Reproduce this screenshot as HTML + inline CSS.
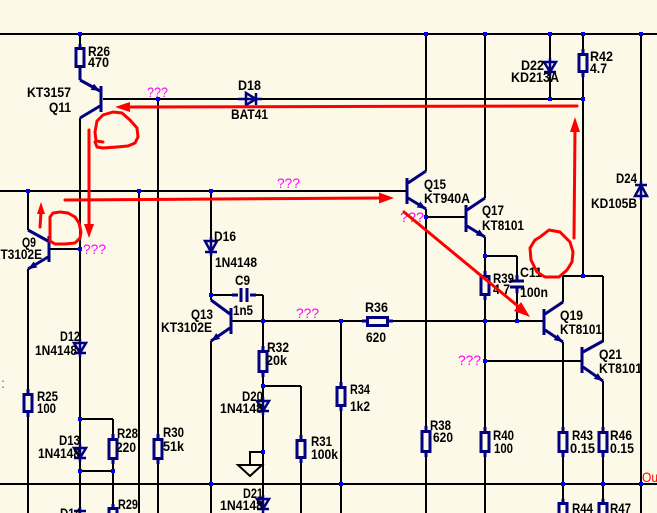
<!DOCTYPE html>
<html><head><meta charset="utf-8"><style>
html,body{margin:0;padding:0;background:#fdf9e8;overflow:hidden}
svg{display:block}
text{font-family:"Liberation Sans",Arial,sans-serif;font-size:14px;font-weight:bold;fill:#000}
text.m{fill:#ff00ff;font-weight:normal}
text.r{fill:#ff0000;font-weight:normal}
</style></head><body>
<svg width="657" height="513" viewBox="0 0 657 513" xmlns="http://www.w3.org/2000/svg">
<defs>
<marker id="a" viewBox="0 0 10 8" refX="10" refY="4" markerWidth="9" markerHeight="7" markerUnits="userSpaceOnUse" orient="auto"><path d="M0,0L10,4L0,8z" fill="#000080"/></marker>
</defs>
<rect width="657" height="513" fill="#fdf9e8"/>
<!-- black wires -->
<g stroke="#000" stroke-width="2" fill="none">
<path d="M0,34H657M103,99H583M0,191H407M0,484H657M49,249H80M426,217H465"/>
<path d="M211,295H238M250,295H263M232,321H366M389,321H544M485,256H517M485,361H582M563,276H603M80,419H113M80,471H113M263,386H301"/>
<path d="M263,452H250V464M238,465H262L250,476Z"/>
<path d="M80,34V44M80,118V342M80,354V447M80,459V513"/>
<path d="M28,191V230M28,269V393M28,413V513"/>
<path d="M113,419V438M113,460V507"/>
<path d="M139,191V513M158,99V438M158,460V513"/>
<path d="M211,191V240M211,253V300M211,341V513"/>
<path d="M263,295V350M263,373V400M263,412V498M263,510V513"/>
<path d="M301,386V439M301,459V513M341,321V386M341,407V513"/>
<path d="M426,34V171M426,209V430M426,453V513"/>
<path d="M485,34V198M485,237V275M485,296V431M485,453V513"/>
<path d="M517,256V280M517,288V321"/>
<path d="M550,34V62M550,72V99M583,34V53M583,73V276"/>
<path d="M563,276V302M563,342V431M563,453V502"/>
<path d="M603,276V342M603,381V431M603,453V502"/>
<path d="M641,34V185M641,196V513"/>
</g>
<!-- navy components -->
<g stroke="#000080" stroke-width="3" fill="none">
<!-- resistors -->
<rect x="76" y="48.5" width="8" height="18"/><path d="M80,44V47M80,68V80"/>
<rect x="579" y="54.5" width="8" height="17"/><path d="M583,49V53M583,73V77"/>
<rect x="24" y="394.5" width="8" height="17"/><path d="M28,389V393M28,413V417"/>
<rect x="109" y="439.5" width="8" height="19"/><path d="M113,434V438M113,460V464"/>
<rect x="154" y="439.5" width="8" height="19"/><path d="M158,434V438M158,460V464"/>
<rect x="259" y="351.5" width="8" height="20"/><path d="M263,346V350M263,373V377"/>
<rect x="297" y="440.5" width="8" height="17"/><path d="M301,435V439M301,459V463"/>
<rect x="337" y="387.5" width="8" height="18"/><path d="M341,382V386M341,407V411"/>
<rect x="422" y="431.5" width="8" height="20"/><path d="M426,426V430M426,453V457"/>
<rect x="481" y="432.5" width="8" height="19"/><path d="M485,427V431M485,453V457"/>
<rect x="559" y="432.5" width="8" height="19"/><path d="M563,427V431M563,453V457"/>
<rect x="599" y="432.5" width="8" height="19"/><path d="M603,427V431M603,453V457"/>
<rect x="481" y="276.5" width="8" height="18"/><path d="M485,271V275M485,296V300"/>
<rect x="367.5" y="317.5" width="20" height="8"/><path d="M362,321H366M389,321H393"/>
<rect x="109" y="508.5" width="8" height="14"/><path d="M113,504V507"/>
<rect x="559" y="503.5" width="8" height="14"/><path d="M563,499V502"/>
<rect x="599" y="503.5" width="8" height="14"/><path d="M603,499V502"/>
<!-- capacitors -->
<path d="M241,288V302M247,288V302M232,295H238M250,295H256"/>
<path d="M510,281H524M510,287H524M517,275V280M517,288V293"/>
<!-- transistors -->
<path d="M101,86V112M100,106L80,118"/>
<path d="M80,80L100,91" marker-end="url(#a)"/>
<path d="M49,236V262M48,241L28,230"/>
<path d="M48,257L28,269" marker-end="url(#a)"/>
<path d="M231,308V334M230,314L211,300"/>
<path d="M230,328L211,341" marker-end="url(#a)"/>
<path d="M407,178V204M408,183L426,171"/>
<path d="M408,198L426,209" marker-end="url(#a)"/>
<path d="M466,205V232M467,210L485,198"/>
<path d="M467,226L485,237" marker-end="url(#a)"/>
<path d="M544,309V335M545,314L563,302"/>
<path d="M545,330L563,342" marker-end="url(#a)"/>
<path d="M582,347V373M583,352L603,341"/>
<path d="M583,367L603,381" marker-end="url(#a)"/>
</g>
<!-- diodes -->
<g stroke="#000080" stroke-width="2.5" fill="none">
<path d="M205,241H217L211,252ZM205,252H217M211,237V256"/>
<path d="M74,343H86L80,353ZM74,353H86M80,339V357"/>
<path d="M74,448H86L80,458ZM74,458H86M80,444V462"/>
<path d="M257,401H269L263,411ZM257,411H269M263,397V415"/>
<path d="M257,499H269L263,509ZM257,509H269M263,495V513"/>
<path d="M74,511H86M80,507V513"/>
<path d="M544,62H556L550,72ZM544,72H556M550,58V76"/>
<path d="M635,185H647M641,185L635,196H647ZM641,181V200"/>
<path d="M256,99L246,93V105ZM256,93V105M238,99H262"/>
</g>
<!-- junction dots -->
<g fill="#0000ff">
<rect x="78" y="32" width="4" height="4"/><rect x="424" y="32" width="4" height="4"/><rect x="483" y="32" width="4" height="4"/><rect x="548" y="32" width="4" height="4"/><rect x="581" y="32" width="4" height="4"/><rect x="639" y="32" width="4" height="4"/>
<rect x="156" y="97" width="4" height="4"/><rect x="548" y="97" width="4" height="4"/><rect x="581" y="97" width="4" height="4"/>
<rect x="26" y="189" width="4" height="4"/><rect x="137" y="189" width="4" height="4"/><rect x="209" y="189" width="4" height="4"/>
<rect x="78" y="247" width="4" height="4"/><rect x="209" y="293" width="4" height="4"/><rect x="261" y="319" width="4" height="4"/>
<rect x="339" y="319" width="4" height="4"/><rect x="483" y="319" width="4" height="4"/><rect x="515" y="319" width="4" height="4"/>
<rect x="424" y="215" width="4" height="4"/><rect x="483" y="254" width="4" height="4"/><rect x="581" y="274" width="4" height="4"/>
<rect x="483" y="359" width="4" height="4"/><rect x="78" y="417" width="4" height="4"/><rect x="78" y="469" width="4" height="4"/><rect x="111" y="469" width="4" height="4"/>
<rect x="261" y="384" width="4" height="4"/><rect x="261" y="450" width="4" height="4"/>
<rect x="209" y="482" width="4" height="4"/><rect x="339" y="482" width="4" height="4"/><rect x="561" y="482" width="4" height="4"/><rect x="601" y="482" width="4" height="4"/><rect x="639" y="482" width="4" height="4"/>
</g>
<!-- labels -->
<g>
<text x="88" y="56" textLength="22" lengthAdjust="spacingAndGlyphs">R26</text>
<text x="88" y="67" textLength="21" lengthAdjust="spacingAndGlyphs">470</text>
<text x="27" y="97" textLength="44" lengthAdjust="spacingAndGlyphs">KT3157</text>
<text x="49" y="112" textLength="22" lengthAdjust="spacingAndGlyphs">Q11</text>
<text x="238" y="90" textLength="23" lengthAdjust="spacingAndGlyphs">D18</text>
<text x="231" y="119" textLength="37" lengthAdjust="spacingAndGlyphs">BAT41</text>
<text x="521" y="70" textLength="23" lengthAdjust="spacingAndGlyphs">D22</text>
<text x="511" y="82" textLength="48" lengthAdjust="spacingAndGlyphs">KD213A</text>
<text x="590" y="61" textLength="23" lengthAdjust="spacingAndGlyphs">R42</text>
<text x="590" y="73" textLength="17" lengthAdjust="spacingAndGlyphs">4.7</text>
<text x="22" y="247" textLength="14" lengthAdjust="spacingAndGlyphs">Q9</text>
<text x="-8" y="259" textLength="50" lengthAdjust="spacingAndGlyphs">KT3102E</text>
<text x="214" y="241" textLength="22" lengthAdjust="spacingAndGlyphs">D16</text>
<text x="215" y="267" textLength="42" lengthAdjust="spacingAndGlyphs">1N4148</text>
<text x="235" y="285" textLength="15" lengthAdjust="spacingAndGlyphs">C9</text>
<text x="233" y="315" textLength="20" lengthAdjust="spacingAndGlyphs">1n5</text>
<text x="191" y="319" textLength="22" lengthAdjust="spacingAndGlyphs">Q13</text>
<text x="161" y="332" textLength="51" lengthAdjust="spacingAndGlyphs">KT3102E</text>
<text x="60" y="341" textLength="20" lengthAdjust="spacingAndGlyphs">D12</text>
<text x="35" y="355" textLength="42" lengthAdjust="spacingAndGlyphs">1N4148</text>
<text x="37" y="401" textLength="21" lengthAdjust="spacingAndGlyphs">R25</text>
<text x="37" y="413" textLength="19" lengthAdjust="spacingAndGlyphs">100</text>
<text x="59" y="445" textLength="21" lengthAdjust="spacingAndGlyphs">D13</text>
<text x="38" y="458" textLength="42" lengthAdjust="spacingAndGlyphs">1N4148</text>
<text x="117" y="438" textLength="21" lengthAdjust="spacingAndGlyphs">R28</text>
<text x="116" y="452" textLength="20" lengthAdjust="spacingAndGlyphs">220</text>
<text x="163" y="437" textLength="21" lengthAdjust="spacingAndGlyphs">R30</text>
<text x="163" y="451" textLength="21" lengthAdjust="spacingAndGlyphs">51k</text>
<text x="118" y="509" textLength="20" lengthAdjust="spacingAndGlyphs">R29</text>
<text x="60" y="518" textLength="21" lengthAdjust="spacingAndGlyphs">D14</text>
<text x="267" y="352" textLength="22" lengthAdjust="spacingAndGlyphs">R32</text>
<text x="266" y="365" textLength="21" lengthAdjust="spacingAndGlyphs">20k</text>
<text x="242" y="401" textLength="21" lengthAdjust="spacingAndGlyphs">D20</text>
<text x="220" y="413" textLength="43" lengthAdjust="spacingAndGlyphs">1N4148</text>
<text x="311" y="446" textLength="21" lengthAdjust="spacingAndGlyphs">R31</text>
<text x="311" y="459" textLength="27" lengthAdjust="spacingAndGlyphs">100k</text>
<text x="350" y="394" textLength="20" lengthAdjust="spacingAndGlyphs">R34</text>
<text x="350" y="411" textLength="20" lengthAdjust="spacingAndGlyphs">1k2</text>
<text x="243" y="498" textLength="20" lengthAdjust="spacingAndGlyphs">D21</text>
<text x="220" y="510" textLength="43" lengthAdjust="spacingAndGlyphs">1N4148</text>
<text x="424" y="189" textLength="22" lengthAdjust="spacingAndGlyphs">Q15</text>
<text x="424" y="203" textLength="46" lengthAdjust="spacingAndGlyphs">KT940A</text>
<text x="482" y="215" textLength="22" lengthAdjust="spacingAndGlyphs">Q17</text>
<text x="482" y="230" textLength="42" lengthAdjust="spacingAndGlyphs">KT8101</text>
<text x="493" y="283" textLength="21" lengthAdjust="spacingAndGlyphs">R39</text>
<text x="493" y="294" textLength="17" lengthAdjust="spacingAndGlyphs">4.7</text>
<text x="520" y="277" textLength="22" lengthAdjust="spacingAndGlyphs">C11</text>
<text x="520" y="297" textLength="28" lengthAdjust="spacingAndGlyphs">100n</text>
<text x="560" y="320" textLength="23" lengthAdjust="spacingAndGlyphs">Q19</text>
<text x="560" y="334" textLength="42" lengthAdjust="spacingAndGlyphs">KT8101</text>
<text x="365" y="312" textLength="23" lengthAdjust="spacingAndGlyphs">R36</text>
<text x="366" y="342" textLength="20" lengthAdjust="spacingAndGlyphs">620</text>
<text x="616" y="183" textLength="21" lengthAdjust="spacingAndGlyphs">D24</text>
<text x="591" y="208" textLength="46" lengthAdjust="spacingAndGlyphs">KD105B</text>
<text x="599" y="359" textLength="23" lengthAdjust="spacingAndGlyphs">Q21</text>
<text x="599" y="373" textLength="43" lengthAdjust="spacingAndGlyphs">KT8101</text>
<text x="430" y="430" textLength="21" lengthAdjust="spacingAndGlyphs">R38</text>
<text x="433" y="442" textLength="20" lengthAdjust="spacingAndGlyphs">620</text>
<text x="493" y="440" textLength="21" lengthAdjust="spacingAndGlyphs">R40</text>
<text x="494" y="453" textLength="19" lengthAdjust="spacingAndGlyphs">100</text>
<text x="572" y="440" textLength="21" lengthAdjust="spacingAndGlyphs">R43</text>
<text x="570" y="453" textLength="25" lengthAdjust="spacingAndGlyphs">0.15</text>
<text x="610" y="440" textLength="22" lengthAdjust="spacingAndGlyphs">R46</text>
<text x="610" y="453" textLength="24" lengthAdjust="spacingAndGlyphs">0.15</text>
<text x="572" y="513" textLength="21" lengthAdjust="spacingAndGlyphs">R44</text>
<text x="610" y="513" textLength="21" lengthAdjust="spacingAndGlyphs">R47</text>
<text class="m" x="147" y="97" textLength="21" lengthAdjust="spacingAndGlyphs">???</text>
<text class="m" x="277" y="188" textLength="23" lengthAdjust="spacingAndGlyphs">???</text>
<text class="m" x="83" y="254" textLength="23" lengthAdjust="spacingAndGlyphs">???</text>
<text class="m" x="296" y="318" textLength="23" lengthAdjust="spacingAndGlyphs">???</text>
<text class="m" x="400" y="222" textLength="24" lengthAdjust="spacingAndGlyphs">???</text>
<text class="m" x="458" y="365" textLength="23" lengthAdjust="spacingAndGlyphs">???</text>
<text class="m" x="1" y="388">:</text>
<text class="r" x="642" y="482" textLength="16" lengthAdjust="spacingAndGlyphs">Ou</text>
</g>
<!-- red annotations -->
<g stroke="#ff0000" stroke-width="3" fill="none" stroke-linecap="round" stroke-linejoin="round">
<path d="M577,106L128,107"/>
<path d="M574,238L575,130"/>
<path d="M89,130L89,226"/>
<path d="M65,200L381,198"/>
<path d="M40,227L41,212"/>
<path d="M404,212L519,307"/>
<path d="M103,142L96,141L95,132L97,121L103,115L113,112L122,113L130,120L137,128L138,137L135,143L128,146L117,147L103,148L97,147L95,142"/>
<path d="M50,240L50,217L53,213L60,212L68,213L75,217L79,223L81,232L80,238L75,243L65,244L55,244L50,241"/>
<path d="M540,237L549,230L560,232L570,242L573,252L572,262L567,270L559,277L545,277L537,272L531,260L530,248L535,240Z"/>
</g>
<g fill="#ff0000">
<polygon points="115,107 130,102 130,112"/>
<polygon points="575,117 570,132 580,132"/>
<polygon points="89,238 84,224 94,224"/>
<polygon points="394,198 379,192.5 379,203.5"/>
<polygon points="41,202 37,214 45,214"/>
<polygon points="530,317 514,311 521,302"/>
</g>
</svg>
</body></html>
